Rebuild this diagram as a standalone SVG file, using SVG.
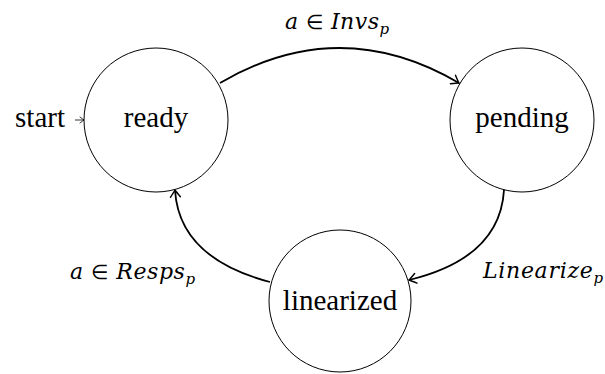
<svg xmlns="http://www.w3.org/2000/svg" width="605" height="374" viewBox="0 0 605 374">
<style>
.state{fill:#fff;stroke:#000;stroke-width:1}
.nt{font-family:"Liberation Serif",serif;font-size:29px;text-anchor:middle;fill:#000}
.lbl{font-family:"DejaVu Serif","Liberation Serif",serif;font-size:22px;font-style:italic;fill:#000}
.up{font-family:"Liberation Serif",serif;font-style:normal;font-size:20px}
.sub{font-size:15px}
.edge{fill:none;stroke:#000;stroke-width:1.8}
</style>
<defs>
<marker id="ah" viewBox="-8 -6 10 12" markerWidth="10" markerHeight="12" refX="0" refY="0" orient="auto" markerUnits="userSpaceOnUse">
<path d="M-7,-5 Q-2,-1.2 0,0 Q-2,1.2 -7,5" fill="none" stroke="#000" stroke-width="1.4" stroke-linecap="round"/>
</marker>
<marker id="ahs" viewBox="-5 -4 6 8" markerWidth="6" markerHeight="8" refX="0" refY="0" orient="auto" markerUnits="userSpaceOnUse">
<path d="M-4,-3 Q-1,-0.7 0,0 Q-1,0.7 -4,3" fill="none" stroke="#000" stroke-width="0.8" stroke-linecap="round"/>
</marker>
</defs>
<g id="connectors">
<path class="edge" d="M220,83 Q339.5,13 459,83" marker-end="url(#ah)"/>
<path class="edge" d="M504,190 Q500,258 409,280" marker-end="url(#ah)"/>
<path class="edge" d="M270,282 Q179,258 175,190" marker-end="url(#ah)"/>
<path d="M75,120 L84,120" fill="none" stroke="#000" stroke-width="0.8" marker-end="url(#ahs)"/>
</g>
<g id="node-ready">
<circle class="state" cx="156" cy="120" r="72"/>
<text class="nt" x="156" y="127">ready</text>
</g>
<g id="node-pending">
<circle class="state" cx="522" cy="120" r="72"/>
<text class="nt" x="522" y="127">pending</text>
</g>
<g id="node-linearized">
<circle class="state" cx="340" cy="301" r="71"/>
<text class="nt" x="340" y="310">linearized</text>
</g>
<g id="start-label">
<text class="nt" x="65" y="126.5" style="text-anchor:end">start</text>
</g>
<g id="edge-labels">
<text class="lbl" x="285" y="29" textLength="104" lengthAdjust="spacing">a <tspan class="up">∈</tspan> Invs<tspan class="sub" dy="5">p</tspan></text>
<text class="lbl" x="70" y="279" textLength="125" lengthAdjust="spacing">a <tspan class="up">∈</tspan> Resps<tspan class="sub" dy="5">p</tspan></text>
<text class="lbl" x="483" y="278" textLength="120" lengthAdjust="spacing">Linearize<tspan class="sub" dy="5">p</tspan></text>
</g>
</svg>
